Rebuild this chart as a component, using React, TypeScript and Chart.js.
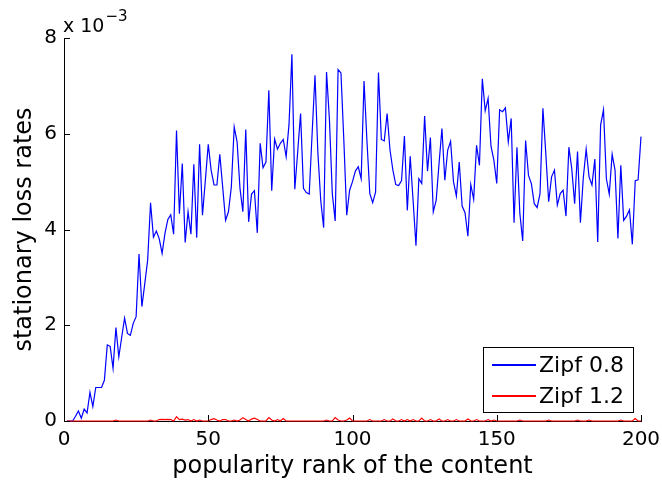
import React, { useEffect, useRef } from "react";
import { Chart, registerables } from "chart.js";
Chart.register(...registerables);

const FONT = "'DejaVu Sans', 'Liberation Sans', Arial, sans-serif";

// popularity rank (x) 1..200
const ranks: number[] = Array.from({ length: 200 }, (_, i) => i + 1);

// stationary loss rates, in units of 1e-3
const zipf08: number[] = [
  0, 0, 0, 0.1, 0.21, 0.06, 0.25, 0.17, 0.6, 0.3,
  0.7, 0.7, 0.7, 0.85, 1.59, 1.56, 1.1, 1.95, 1.34, 1.75,
  2.15, 1.83, 1.79, 2.04, 2.18, 3.49, 2.39, 2.87, 3.36, 4.56,
  3.84, 3.97, 3.81, 3.5, 3.92, 4.21, 4.31, 3.9, 6.07, 4.33,
  5.38, 3.73, 4.37, 3.9, 5.36, 3.83, 5.78, 4.3, 5.03, 5.78,
  5.24, 4.93, 4.93, 5.57, 4.89, 4.19, 4.37, 4.89, 6.14, 5.83,
  4.86, 4.37, 6.09, 4.16, 4.74, 4.81, 3.93, 5.8, 5.29, 5.41,
  6.91, 4.81, 5.89, 5.68, 5.8, 5.88, 5.52, 6.2, 7.66, 4.84,
  5.62, 6.42, 4.86, 4.77, 4.74, 6.0, 7.22, 5.6, 4.6, 4.04,
  7.29, 6.3, 4.75, 4.18, 7.34, 7.27, 5.86, 4.3, 4.82, 5.0,
  5.22, 5.31, 5.06, 7.1, 5.86, 4.75, 4.56, 4.78, 7.28, 5.88,
  5.85, 6.42, 5.66, 5.24, 4.94, 4.92, 5.02, 5.95, 4.4, 5.53,
  4.61, 3.66, 5.06, 4.96, 6.37, 5.22, 5.92, 4.37, 4.61, 5.38,
  6.11, 5.03, 5.66, 5.84, 5.0, 4.7, 5.41, 4.49, 4.35, 3.86,
  4.94, 4.63, 5.76, 5.34, 7.15, 6.48, 6.74, 5.74, 5.45, 4.96,
  6.5, 6.46, 6.54, 5.83, 6.32, 4.14, 5.72, 4.34, 3.76, 5.86,
  5.13, 4.96, 4.54, 4.46, 4.75, 6.53, 5.59, 4.58, 5.1, 5.24,
  4.51, 4.75, 4.82, 4.28, 5.72, 5.27, 4.54, 5.63, 4.14, 5.08,
  5.68, 5.1, 4.93, 5.47, 3.74, 6.18, 6.5, 5.06, 4.74, 5.57,
  5.24, 3.81, 5.34, 4.19, 4.28, 4.41, 3.69, 5.02, 5.04, 5.94,
];

const zipf12: number[] = [
  0, 0, 0, 0, 0, 0, 0, 0, 0, 0,
  0, 0, 0, 0, 0, 0, 0, 0.02, 0, 0,
  0, 0, 0, 0, 0, 0, 0, 0, 0, 0.02,
  0, 0, 0.03, 0.035, 0.03, 0.035, 0.03, 0, 0.09, 0.03,
  0.04, 0.02, 0.03, 0, 0.03, 0, 0.02, 0, 0, 0,
  0.03, 0.05, 0.02, 0, 0.03, 0.03, 0, 0, 0.02, 0,
  0.02, 0.07, 0.03, 0, 0.04, 0.06, 0.03, 0, 0, 0,
  0.07, 0.02, 0, 0.03, 0, 0.05, 0, 0, 0, 0,
  0, 0, 0, 0, 0, 0, 0, 0, 0, 0,
  0.02, 0, 0, 0.07, 0.02, 0, 0, 0.02, 0.06, 0,
  0, 0, 0, 0, 0, 0.03, 0, 0, 0, 0,
  0.03, 0, 0, 0.04, 0, 0, 0.03, 0, 0.03, 0,
  0.03, 0, 0, 0.06, 0, 0, 0.03, 0, 0, 0.04,
  0, 0, 0.03, 0, 0, 0.03, 0, 0, 0, 0.04,
  0, 0, 0.03, 0, 0, 0, 0.03, 0, 0.02, 0,
  0, 0, 0, 0, 0, 0, 0, 0.02, 0, 0,
  0, 0, 0, 0, 0, 0, 0, 0.02, 0, 0,
  0, 0, 0, 0, 0, 0, 0, 0.02, 0, 0,
  0, 0.02, 0, 0, 0, 0, 0, 0, 0, 0,
  0, 0, 0.02, 0, 0, 0, 0, 0.05, 0, 0,
];

const seriesLabels = ["Zipf 0.8", "Zipf 1.2"];
const seriesColors = ["#0000ff", "#ff0000"];
const xTicks = [0, 50, 100, 150, 200];
const yTicks = [0, 2, 4, 6, 8];
const xTitle = "popularity rank of the content";
const yTitle = "stationary loss rates";
const yExponent = "\u22123";

const matlabPlugin = {
  id: "matlabDecor",
  afterDraw(chart: any) {
    const ctx = chart.ctx;
    const { left, top, bottom } = chart.chartArea;
    const xs = chart.scales.x;
    const ys = chart.scales.y;
    ctx.save();
    // inner ticks
    ctx.strokeStyle = "#000";
    ctx.lineWidth = 1;
    ctx.beginPath();
    for (const t of xTicks) {
      const px = Math.round(xs.getPixelForValue(t)) + 0.5;
      ctx.moveTo(px, bottom);
      ctx.lineTo(px, bottom - 6);
    }
    for (const t of yTicks) {
      const py = Math.round(ys.getPixelForValue(t)) + 0.5;
      ctx.moveTo(left, py);
      ctx.lineTo(left + 6, py);
    }
    ctx.stroke();
    // exponent label
    ctx.fillStyle = "#000";
    ctx.textBaseline = "alphabetic";
    ctx.textAlign = "left";
    ctx.font = `19px ${FONT}`;
    ctx.fillText("x 10", left - 1, top - 6);
    const w = ctx.measureText("x 10").width;
    ctx.font = `15px ${FONT}`;
    ctx.fillText(yExponent, left - 1 + w + 1, top - 17);
    // legend
    const lx = 483, ly = 347, lw = 150, lh = 65;
    ctx.fillStyle = "#fff";
    ctx.fillRect(lx, ly, lw, lh);
    ctx.strokeStyle = "#000";
    ctx.lineWidth = 1;
    ctx.strokeRect(lx + 0.5, ly + 0.5, lw, lh);
    ctx.font = `22px ${FONT}`;
    ctx.textBaseline = "middle";
    chart.data.datasets.forEach((ds: any, i: number) => {
      const yy = ly + 18 + i * 31;
      ctx.strokeStyle = ds.borderColor;
      ctx.lineWidth = 2;
      ctx.beginPath();
      ctx.moveTo(lx + 9, yy);
      ctx.lineTo(lx + 53, yy);
      ctx.stroke();
      ctx.fillStyle = "#000";
      ctx.fillText(ds.label, lx + 56, yy + 1);
    });
    ctx.restore();
  },
};

export default function App() {
  const ref = useRef<HTMLCanvasElement | null>(null);
  useEffect(() => {
    if (!ref.current) return;
    const chart = new Chart(ref.current, {
      type: "line",
      data: {
        datasets: [
          {
            label: seriesLabels[0],
            data: ranks.map((r, i) => ({ x: r, y: zipf08[i] })),
            borderColor: seriesColors[0],
            borderWidth: 1.2,
            pointRadius: 0,
            fill: false,
            tension: 0,
            order: 1,
            clip: 4,
          },
          {
            label: seriesLabels[1],
            data: ranks.map((r, i) => ({ x: r, y: zipf12[i] })),
            borderColor: seriesColors[1],
            borderWidth: 1.2,
            pointRadius: 0,
            fill: false,
            tension: 0,
            order: 0,
            clip: 4,
          },
        ],
      },
      options: {
        responsive: false,
        animation: false,
        devicePixelRatio: 1,
        layout: { padding: { left: 0, right: 21, top: 38, bottom: 0 } },
        plugins: { legend: { display: false }, tooltip: { enabled: false } },
        scales: {
          x: {
            type: "linear",
            min: 0,
            max: 200,
            afterBuildTicks: (s: any) => {
              s.ticks = xTicks.map((v) => ({ value: v }));
            },
            afterFit: (s: any) => {
              s.height = 62;
              s.paddingRight = 0;
              s.paddingLeft = 0;
            },
            grid: { display: false, drawTicks: false },
            border: { display: true, color: "#000", width: 1 },
            ticks: {
              color: "#000",
              font: { family: FONT, size: 20 },
              padding: 7,
              maxRotation: 0,
            },
            title: {
              display: true,
              text: xTitle,
              color: "#000",
              font: { family: FONT, size: 24 },
              padding: { top: 0, bottom: 2 },
            },
          },
          y: {
            type: "linear",
            min: 0,
            max: 8,
            afterBuildTicks: (s: any) => {
              s.ticks = yTicks.map((v) => ({ value: v }));
            },
            afterFit: (s: any) => {
              s.width = 64;
              s.paddingTop = 0;
              s.paddingBottom = 0;
            },
            grid: { display: false, drawTicks: false },
            border: { display: true, color: "#000", width: 1 },
            ticks: {
              color: "#000",
              font: { family: FONT, size: 20 },
              padding: 7,
            },
            title: {
              display: true,
              text: yTitle,
              color: "#000",
              font: { family: FONT, size: 24 },
              padding: { top: 10, bottom: 0 },
            },
          },
        },
      },
      plugins: [matlabPlugin],
    });
    return () => chart.destroy();
  }, []);
  return (
    <div style={{ position: "fixed", left: 0, top: 0, width: 662, height: 483, background: "#fff" }}>
      <canvas ref={ref} width={662} height={483} style={{ display: "block" }} />
    </div>
  );
}
